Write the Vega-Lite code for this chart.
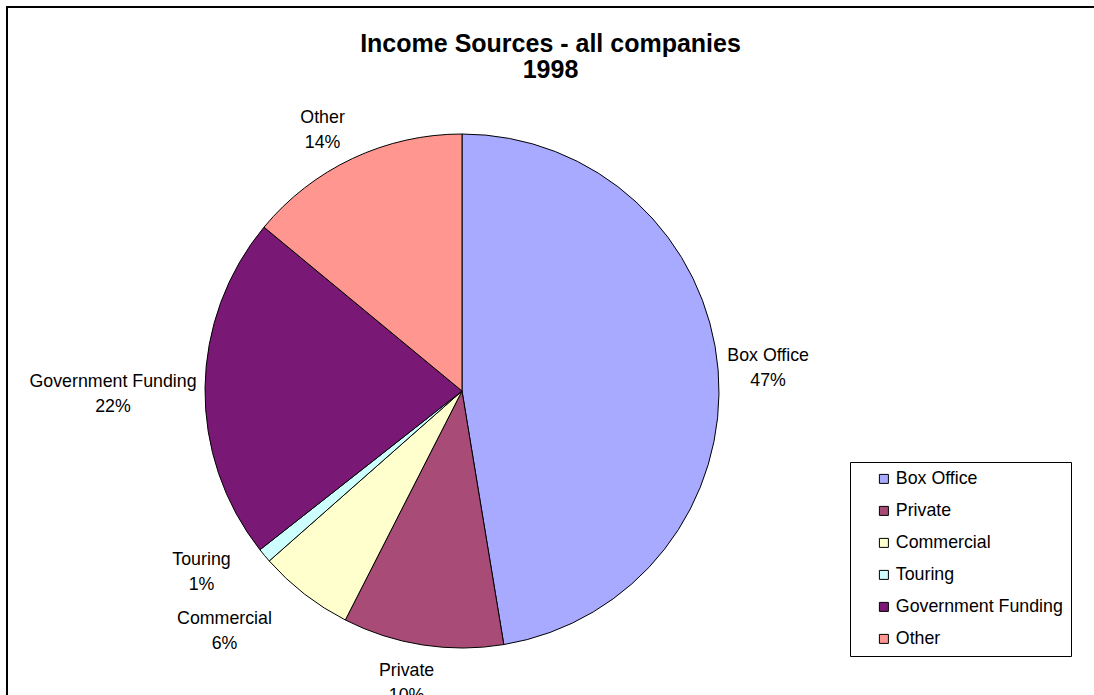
{
  "$schema": "https://vega.github.io/schema/vega-lite/v6.json",
  "autosize": "none",
  "width": 1087,
  "height": 688,
  "padding": {"left": 7, "top": 7, "right": 0, "bottom": 0},
  "background": "white",
  "config": {
    "view": {"stroke": null},
    "font": "Liberation Sans"
  },
  "title": {
    "text": ["Income Sources - all companies", "1998"],
    "anchor": "middle",
    "frame": "group",
    "fontSize": 25,
    "fontWeight": "bold",
    "font": "Liberation Sans",
    "color": "black",
    "lineHeight": 26,
    "offset": -77
  },
  "data": {
    "values": [
      {"source": "Box Office", "share": 47.4},
      {"source": "Private", "share": 10.1},
      {"source": "Commercial", "share": 6.0},
      {"source": "Touring", "share": 0.9},
      {"source": "Government Funding", "share": 21.6},
      {"source": "Other", "share": 14.0}
    ]
  },
  "transform": [
    {"window": [{"op": "row_number", "as": "rank"}]},
    {"stack": "share", "groupby": [], "sort": [{"field": "rank", "order": "ascending"}], "as": ["t0", "t1"]},
    {"calculate": "(datum.t0 + datum.t1) / 2", "as": "tmid"},
    {"calculate": "datum.source + '\\n' + format(datum.share, '.0f') + '%'", "as": "label"}
  ],
  "layer": [
    {
      "data": {"values": [{"frame": "top edge"}]},
      "transform": [],
      "mark": {"type": "rect", "fill": "black", "stroke": null},
      "encoding": {
        "x": {"value": -1},
        "x2": {"value": "width"},
        "y": {"value": -1},
        "y2": {"value": 1}
      }
    },
    {
      "data": {"values": [{"frame": "left edge"}]},
      "transform": [],
      "mark": {"type": "rect", "fill": "black", "stroke": null},
      "encoding": {
        "x": {"value": -1},
        "x2": {"value": 1},
        "y": {"value": -1},
        "y2": {"value": "height"}
      }
    },
    {
      "mark": {"type": "arc", "x": 455, "y": 384, "outerRadius": 257, "stroke": "black", "strokeWidth": 1},
      "encoding": {
        "theta": {"field": "t0", "type": "quantitative", "stack": null, "scale": {"domain": [0, 100], "range": [0, 6.283185307179586]}},
        "theta2": {"field": "t1"},
        "color": {
          "field": "source",
          "type": "nominal",
          "scale": {
            "domain": ["Box Office", "Private", "Commercial", "Touring", "Government Funding", "Other"],
            "range": ["#A8AAFF", "#A94B77", "#FFFFCE", "#CEFFFF", "#7A1975", "#FF968F"]
          },
          "legend": {
            "title": null,
            "orient": "none",
            "legendX": 843,
            "legendY": 455,
            "strokeColor": "black",
            "fillColor": "white",
            "padding": 8,
            "symbolOffset": 17,
            "symbolType": "square",
            "symbolSize": 81,
            "symbolStrokeColor": "black",
            "symbolStrokeWidth": 1,
            "labelFontSize": 17.8,
            "labelFont": "Liberation Sans",
            "labelColor": "black",
            "labelOffset": 3,
            "labelLimit": 400,
            "rowPadding": 13
          }
        }
      }
    },
    {
      "transform": [{"filter": "datum.source === 'Box Office'"}],
      "mark": {"type": "text", "x": 455, "y": 384, "radius": 257, "dx": 50, "dy": -14, "align": "center", "baseline": "middle", "lineBreak": "\n", "lineHeight": 25, "fontSize": 17.8, "font": "Liberation Sans", "color": "black"},
      "encoding": {"theta": {"field": "tmid", "type": "quantitative", "stack": null}, "text": {"field": "label"}}
    },
    {
      "transform": [{"filter": "datum.source === 'Private'"}],
      "mark": {"type": "text", "x": 455, "y": 384, "radius": 257, "dx": -16, "dy": 26, "align": "center", "baseline": "middle", "lineBreak": "\n", "lineHeight": 25, "fontSize": 17.8, "font": "Liberation Sans", "color": "black"},
      "encoding": {"theta": {"field": "tmid", "type": "quantitative", "stack": null}, "text": {"field": "label"}}
    },
    {
      "transform": [{"filter": "datum.source === 'Commercial'"}],
      "mark": {"type": "text", "x": 455, "y": 384, "radius": 257, "dx": -80, "dy": 25, "align": "center", "baseline": "middle", "lineBreak": "\n", "lineHeight": 25, "fontSize": 17.8, "font": "Liberation Sans", "color": "black"},
      "encoding": {"theta": {"field": "tmid", "type": "quantitative", "stack": null}, "text": {"field": "label"}}
    },
    {
      "transform": [{"filter": "datum.source === 'Touring'"}],
      "mark": {"type": "text", "x": 455, "y": 384, "radius": 257, "dx": -63, "dy": 5, "align": "center", "baseline": "middle", "lineBreak": "\n", "lineHeight": 25, "fontSize": 17.8, "font": "Liberation Sans", "color": "black"},
      "encoding": {"theta": {"field": "tmid", "type": "quantitative", "stack": null}, "text": {"field": "label"}}
    },
    {
      "transform": [{"filter": "datum.source === 'Government Funding'"}],
      "mark": {"type": "text", "x": 455, "y": 384, "radius": 257, "dx": -92, "dy": -6, "align": "center", "baseline": "middle", "lineBreak": "\n", "lineHeight": 25, "fontSize": 17.8, "font": "Liberation Sans", "color": "black"},
      "encoding": {"theta": {"field": "tmid", "type": "quantitative", "stack": null}, "text": {"field": "label"}}
    },
    {
      "transform": [{"filter": "datum.source === 'Other'"}],
      "mark": {"type": "text", "x": 455, "y": 384, "radius": 257, "dx": -30, "dy": -40, "align": "center", "baseline": "middle", "lineBreak": "\n", "lineHeight": 25, "fontSize": 17.8, "font": "Liberation Sans", "color": "black"},
      "encoding": {"theta": {"field": "tmid", "type": "quantitative", "stack": null}, "text": {"field": "label"}}
    }
  ]
}
